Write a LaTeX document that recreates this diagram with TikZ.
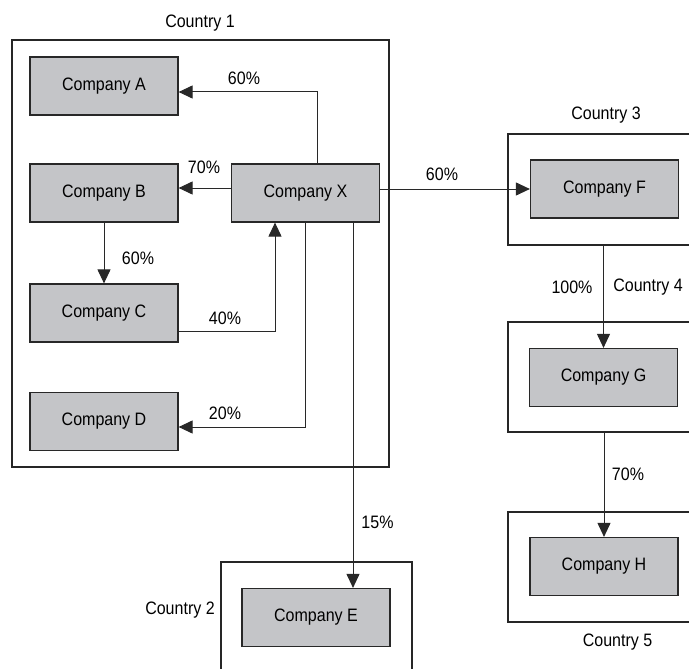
\documentclass[tikz,border=0pt]{standalone}
\usepackage{fontspec}
\setmainfont{Liberation Sans}[FakeStretch=0.89]
\usetikzlibrary{arrows.meta,positioning}
\definecolor{firmgray}{RGB}{196,197,200}
\definecolor{inkgray}{RGB}{40,40,40}

\begin{document}
\begin{tikzpicture}[x=1pt,y=-1pt,
  firm/.style={draw=inkgray,line width=1.2pt,fill=firmgray,minimum width=148pt,minimum height=58pt,inner sep=0pt},
  country/.style={draw=black!85,line width=2pt,inner sep=0pt},
  link/.style={draw=inkgray,line width=1pt,-{Triangle[length=14pt,width=13pt]}},
  tag/.style={inner sep=1pt},
  font=\fontsize{18}{21}\selectfont]
\useasboundingbox(0,0)rectangle(689,669);
\clip(0,0)rectangle(689,669);
% country frames
\node[country,minimum width=377pt,minimum height=427pt](c1)at(200.5,253.25){};
\node[country,minimum width=191pt,minimum height=138pt](c2)at(316.5,631){};
\node[country,minimum width=220pt,minimum height=111pt](c3)at(618,189.5){};
\node[country,minimum width=220pt,minimum height=110pt](c4)at(618,377){};
\node[country,minimum width=220pt,minimum height=110pt](c5)at(618,567){};
% companies
\node[firm](A)at(104,86){Company A};
\node[firm](B)at(104,193){Company B};
\node[firm](C)at(104,313){Company C};
\node[firm](D)at(104,421.5){Company D};
\node[firm](X)at(305.5,193){Company X};
\node[firm](E)at(316,617.5){Company E};
\node[firm](F)at(604.5,189){Company F};
\node[firm](G)at(603.5,377.5){Company G};
\node[firm](H)at(604,566.5){Company H};
% holdings
\draw[link]([xshift=11.5pt]X.north)|-([yshift=-6pt]A.east);
\draw[link]([yshift=5pt]X.west)--([yshift=5pt]B.east);
\draw[link](B.south)--(C.north);
\draw[link]([yshift=-18pt]C.east)-|([xshift=-30.5pt]X.south);
\draw[link](X.south)|-([yshift=-5.5pt]D.east);
\draw[link]([xshift=47.5pt]X.south)--([xshift=47.5pt]X.south|-E.north);
\draw[link](X.east|-F.west)--(F.west);
\draw[link](c3.south-|G.north)--(G.north);
\draw[link](c4.south-|H.north)--(H.north);
% labels
\node[tag](lc1)at(200,23){Country 1};
\node[tag](lc2)at(180,610){Country 2};
\node[tag](lc3)at(606,115){Country 3};
\node[tag](lc4)at(648,287){Country 4};
\node[tag](lc5)at(617.5,642){Country 5};
\node[tag](pA)at(244,78){60\%};
\node[tag](pB)at(204,167){70\%};
\node[tag](pC)at(138,258){60\%};
\node[tag](pX)at(225,318){40\%};
\node[tag](pD)at(225,413){20\%};
\node[tag](pF)at(442,174){60\%};
\node[tag](pG)at(572,287){100\%};
\node[tag](pE)at(377.5,522){15\%};
\node[tag](pH)at(628,474){70\%};
\end{tikzpicture}
\end{document}
